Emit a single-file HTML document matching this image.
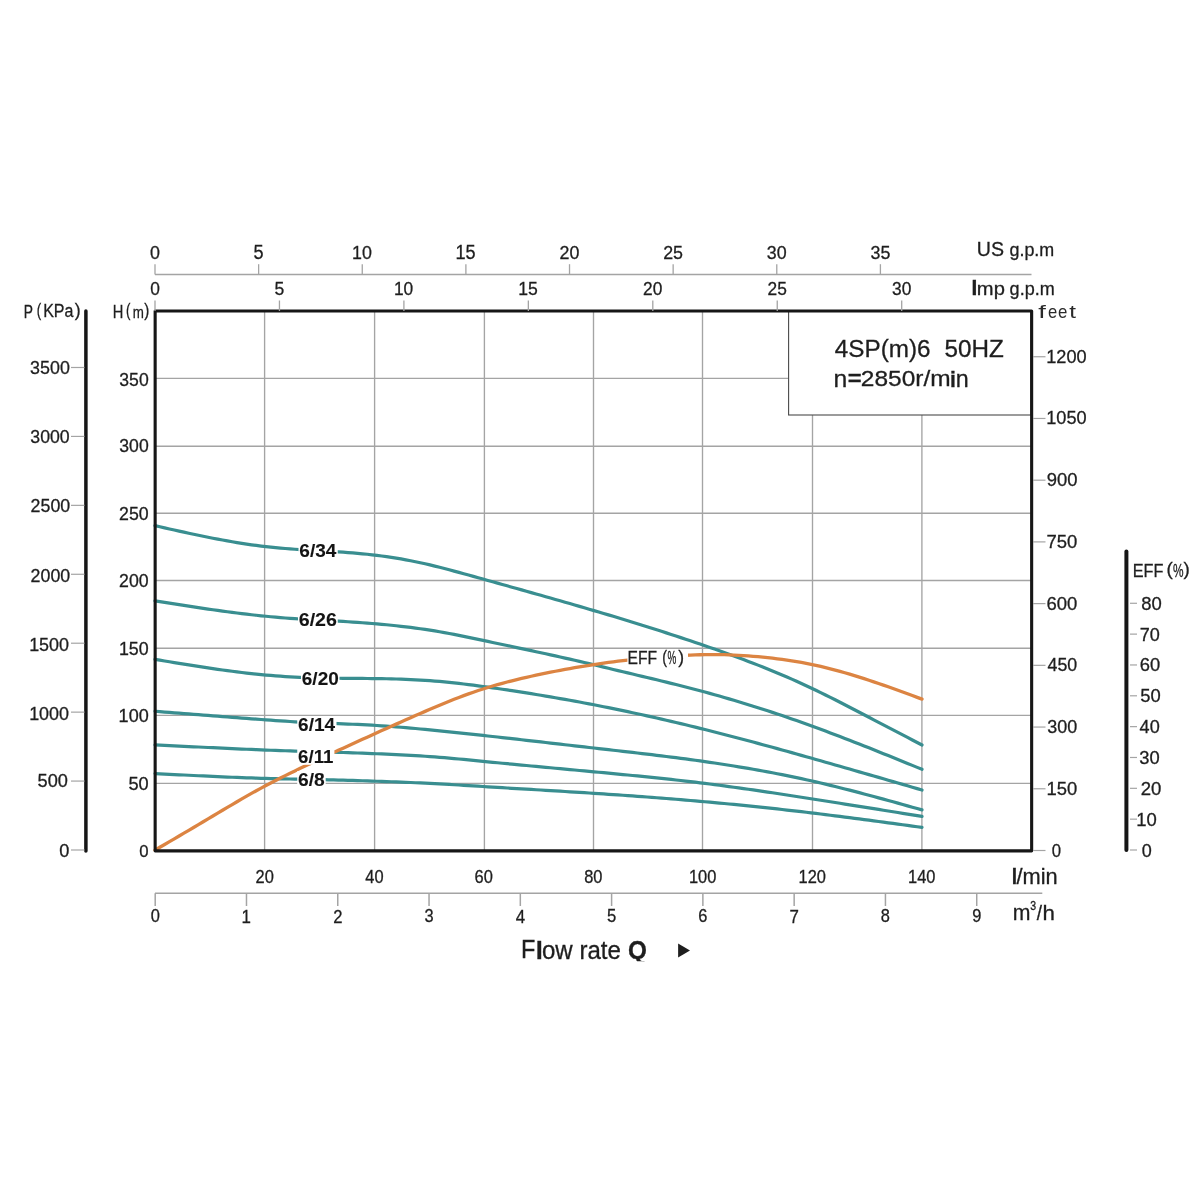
<!DOCTYPE html>
<html><head><meta charset="utf-8"><style>
html,body{margin:0;padding:0;background:#fff;}
svg{display:block;font-family:"Liberation Sans",sans-serif;will-change:transform;}
</style></head><body>
<svg width="1200" height="1200" viewBox="0 0 1200 1200">
<rect x="0" y="0" width="1200" height="1200" fill="#fff"/>
<line x1="264.60" y1="311" x2="264.60" y2="850.5" stroke="#a4a4a4" stroke-width="1.35"/>
<line x1="374.60" y1="311" x2="374.60" y2="850.5" stroke="#a4a4a4" stroke-width="1.35"/>
<line x1="484.40" y1="311" x2="484.40" y2="850.5" stroke="#a4a4a4" stroke-width="1.35"/>
<line x1="593.50" y1="311" x2="593.50" y2="850.5" stroke="#a4a4a4" stroke-width="1.35"/>
<line x1="702.50" y1="311" x2="702.50" y2="850.5" stroke="#a4a4a4" stroke-width="1.35"/>
<line x1="812.50" y1="311" x2="812.50" y2="850.5" stroke="#a4a4a4" stroke-width="1.35"/>
<line x1="921.90" y1="311" x2="921.90" y2="850.5" stroke="#a4a4a4" stroke-width="1.35"/>
<line x1="155" y1="378.40" x2="1031" y2="378.40" stroke="#a4a4a4" stroke-width="1.35"/>
<line x1="155" y1="446.20" x2="1031" y2="446.20" stroke="#a4a4a4" stroke-width="1.35"/>
<line x1="155" y1="513.20" x2="1031" y2="513.20" stroke="#a4a4a4" stroke-width="1.35"/>
<line x1="155" y1="580.50" x2="1031" y2="580.50" stroke="#a4a4a4" stroke-width="1.35"/>
<line x1="155" y1="648.20" x2="1031" y2="648.20" stroke="#a4a4a4" stroke-width="1.35"/>
<line x1="155" y1="715.30" x2="1031" y2="715.30" stroke="#a4a4a4" stroke-width="1.35"/>
<line x1="155" y1="783.30" x2="1031" y2="783.30" stroke="#a4a4a4" stroke-width="1.35"/>
<rect x="788.6" y="311" width="242.4" height="104" fill="#fff" stroke="#4a4a4a" stroke-width="1.1"/>
<path d="M155.00,525.68 L159.82,526.78 L164.65,527.87 L169.47,528.96 L174.30,530.04 L179.12,531.11 L183.94,532.18 L188.77,533.23 L193.59,534.26 L198.42,535.28 L203.24,536.28 L208.06,537.26 L212.89,538.22 L217.71,539.15 L222.53,540.05 L227.36,540.93 L232.18,541.78 L237.01,542.59 L241.83,543.36 L246.65,544.10 L251.48,544.80 L256.30,545.46 L261.13,546.08 L265.95,546.65 L270.77,547.17 L275.60,547.65 L280.42,548.09 L285.25,548.50 L290.07,548.88 L294.89,549.23 L299.72,549.56 L304.54,549.86 L309.36,550.16 L314.19,550.44 L319.01,550.72 L323.84,551.00 L328.66,551.29 L333.48,551.58 L338.31,551.89 L343.13,552.22 L347.96,552.57 L352.78,552.95 L357.60,553.36 L362.43,553.80 L367.25,554.28 L372.08,554.80 L376.90,555.37 L381.72,555.99 L386.55,556.65 L391.37,557.37 L396.19,558.13 L401.02,558.95 L405.84,559.81 L410.67,560.73 L415.49,561.70 L420.31,562.73 L425.14,563.81 L429.96,564.93 L434.79,566.11 L439.61,567.31 L444.43,568.55 L449.26,569.81 L454.08,571.09 L458.91,572.40 L463.73,573.71 L468.55,575.04 L473.38,576.38 L478.20,577.73 L483.03,579.08 L487.85,580.43 L492.67,581.78 L497.50,583.13 L502.32,584.48 L507.14,585.82 L511.97,587.17 L516.79,588.53 L521.62,589.88 L526.44,591.23 L531.26,592.59 L536.09,593.95 L540.91,595.31 L545.74,596.68 L550.56,598.05 L555.38,599.42 L560.21,600.80 L565.03,602.18 L569.86,603.57 L574.68,604.96 L579.50,606.36 L584.33,607.76 L589.15,609.18 L593.97,610.59 L598.80,612.02 L603.62,613.45 L608.45,614.89 L613.27,616.34 L618.09,617.80 L622.92,619.26 L627.74,620.74 L632.57,622.22 L637.39,623.71 L642.21,625.21 L647.04,626.72 L651.86,628.25 L656.69,629.78 L661.51,631.32 L666.33,632.88 L671.16,634.44 L675.98,636.02 L680.81,637.61 L685.63,639.21 L690.45,640.82 L695.28,642.45 L700.10,644.09 L704.92,645.74 L709.75,647.40 L714.57,649.09 L719.40,650.78 L724.22,652.50 L729.04,654.24 L733.87,655.99 L738.69,657.77 L743.52,659.57 L748.34,661.40 L753.16,663.25 L757.99,665.13 L762.81,667.04 L767.64,668.98 L772.46,670.94 L777.28,672.95 L782.11,674.98 L786.93,677.05 L791.75,679.15 L796.58,681.29 L801.40,683.47 L806.23,685.69 L811.05,687.95 L815.87,690.24 L820.70,692.58 L825.52,694.95 L830.35,697.36 L835.17,699.79 L839.99,702.25 L844.82,704.72 L849.64,707.21 L854.47,709.72 L859.29,712.24 L864.11,714.76 L868.94,717.28 L873.76,719.80 L878.58,722.32 L883.41,724.84 L888.23,727.36 L893.06,729.88 L897.88,732.40 L902.70,734.92 L907.53,737.44 L912.35,739.96 L917.18,742.48 L922.00,745.00" fill="none" stroke="#398e90" stroke-width="3.2" stroke-linecap="round" stroke-linejoin="round"/>
<path d="M155.00,600.85 L159.82,601.62 L164.65,602.38 L169.47,603.15 L174.30,603.91 L179.12,604.67 L183.94,605.42 L188.77,606.16 L193.59,606.90 L198.42,607.63 L203.24,608.35 L208.06,609.06 L212.89,609.75 L217.71,610.43 L222.53,611.10 L227.36,611.75 L232.18,612.39 L237.01,613.00 L241.83,613.60 L246.65,614.18 L251.48,614.74 L256.30,615.28 L261.13,615.79 L265.95,616.28 L270.77,616.74 L275.60,617.18 L280.42,617.59 L285.25,617.98 L290.07,618.35 L294.89,618.69 L299.72,619.01 L304.54,619.30 L309.36,619.58 L314.19,619.85 L319.01,620.10 L323.84,620.36 L328.66,620.61 L333.48,620.88 L338.31,621.15 L343.13,621.43 L347.96,621.73 L352.78,622.05 L357.60,622.38 L362.43,622.73 L367.25,623.10 L372.08,623.49 L376.90,623.90 L381.72,624.33 L386.55,624.78 L391.37,625.26 L396.19,625.76 L401.02,626.30 L405.84,626.86 L410.67,627.45 L415.49,628.08 L420.31,628.74 L425.14,629.43 L429.96,630.16 L434.79,630.94 L439.61,631.75 L444.43,632.60 L449.26,633.50 L454.08,634.42 L458.91,635.37 L463.73,636.35 L468.55,637.35 L473.38,638.36 L478.20,639.38 L483.03,640.40 L487.85,641.43 L492.67,642.45 L497.50,643.47 L502.32,644.49 L507.14,645.52 L511.97,646.54 L516.79,647.57 L521.62,648.60 L526.44,649.63 L531.26,650.66 L536.09,651.71 L540.91,652.75 L545.74,653.80 L550.56,654.86 L555.38,655.93 L560.21,657.00 L565.03,658.09 L569.86,659.18 L574.68,660.28 L579.50,661.39 L584.33,662.51 L589.15,663.65 L593.97,664.80 L598.80,665.96 L603.62,667.12 L608.45,668.29 L613.27,669.45 L618.09,670.61 L622.92,671.76 L627.74,672.90 L632.57,674.05 L637.39,675.20 L642.21,676.34 L647.04,677.49 L651.86,678.65 L656.69,679.81 L661.51,680.97 L666.33,682.15 L671.16,683.34 L675.98,684.53 L680.81,685.74 L685.63,686.97 L690.45,688.21 L695.28,689.47 L700.10,690.75 L704.92,692.04 L709.75,693.36 L714.57,694.70 L719.40,696.06 L724.22,697.44 L729.04,698.84 L733.87,700.27 L738.69,701.71 L743.52,703.17 L748.34,704.66 L753.16,706.16 L757.99,707.68 L762.81,709.23 L767.64,710.79 L772.46,712.37 L777.28,713.98 L782.11,715.60 L786.93,717.24 L791.75,718.90 L796.58,720.58 L801.40,722.28 L806.23,724.00 L811.05,725.74 L815.87,727.50 L820.70,729.27 L825.52,731.07 L830.35,732.88 L835.17,734.70 L839.99,736.54 L844.82,738.40 L849.64,740.27 L854.47,742.15 L859.29,744.04 L864.11,745.94 L868.94,747.86 L873.76,749.78 L878.58,751.71 L883.41,753.65 L888.23,755.59 L893.06,757.54 L897.88,759.50 L902.70,761.46 L907.53,763.42 L912.35,765.39 L917.18,767.36 L922.00,769.33" fill="none" stroke="#398e90" stroke-width="3.2" stroke-linecap="round" stroke-linejoin="round"/>
<path d="M155.00,659.37 L159.82,660.18 L164.65,660.98 L169.47,661.77 L174.30,662.57 L179.12,663.36 L183.94,664.14 L188.77,664.91 L193.59,665.68 L198.42,666.43 L203.24,667.17 L208.06,667.90 L212.89,668.61 L217.71,669.30 L222.53,669.98 L227.36,670.64 L232.18,671.27 L237.01,671.89 L241.83,672.48 L246.65,673.05 L251.48,673.59 L256.30,674.10 L261.13,674.58 L265.95,675.04 L270.77,675.46 L275.60,675.85 L280.42,676.21 L285.25,676.53 L290.07,676.83 L294.89,677.09 L299.72,677.31 L304.54,677.51 L309.36,677.68 L314.19,677.82 L319.01,677.94 L323.84,678.03 L328.66,678.11 L333.48,678.18 L338.31,678.23 L343.13,678.28 L347.96,678.32 L352.78,678.36 L357.60,678.39 L362.43,678.43 L367.25,678.48 L372.08,678.53 L376.90,678.60 L381.72,678.68 L386.55,678.77 L391.37,678.88 L396.19,679.02 L401.02,679.17 L405.84,679.35 L410.67,679.55 L415.49,679.78 L420.31,680.04 L425.14,680.34 L429.96,680.67 L434.79,681.03 L439.61,681.43 L444.43,681.88 L449.26,682.36 L454.08,682.87 L458.91,683.42 L463.73,683.99 L468.55,684.59 L473.38,685.21 L478.20,685.85 L483.03,686.51 L487.85,687.17 L492.67,687.85 L497.50,688.54 L502.32,689.24 L507.14,689.95 L511.97,690.68 L516.79,691.41 L521.62,692.16 L526.44,692.92 L531.26,693.69 L536.09,694.47 L540.91,695.26 L545.74,696.07 L550.56,696.89 L555.38,697.72 L560.21,698.56 L565.03,699.41 L569.86,700.28 L574.68,701.16 L579.50,702.05 L584.33,702.96 L589.15,703.87 L593.97,704.80 L598.80,705.74 L603.62,706.70 L608.45,707.67 L613.27,708.65 L618.09,709.64 L622.92,710.64 L627.74,711.66 L632.57,712.69 L637.39,713.73 L642.21,714.78 L647.04,715.85 L651.86,716.93 L656.69,718.01 L661.51,719.12 L666.33,720.23 L671.16,721.35 L675.98,722.48 L680.81,723.63 L685.63,724.79 L690.45,725.96 L695.28,727.14 L700.10,728.33 L704.92,729.53 L709.75,730.74 L714.57,731.96 L719.40,733.19 L724.22,734.44 L729.04,735.69 L733.87,736.95 L738.69,738.22 L743.52,739.49 L748.34,740.78 L753.16,742.07 L757.99,743.37 L762.81,744.68 L767.64,746.00 L772.46,747.32 L777.28,748.64 L782.11,749.98 L786.93,751.31 L791.75,752.66 L796.58,754.01 L801.40,755.36 L806.23,756.71 L811.05,758.07 L815.87,759.44 L820.70,760.80 L825.52,762.17 L830.35,763.55 L835.17,764.92 L839.99,766.30 L844.82,767.68 L849.64,769.06 L854.47,770.45 L859.29,771.84 L864.11,773.22 L868.94,774.62 L873.76,776.01 L878.58,777.40 L883.41,778.80 L888.23,780.19 L893.06,781.59 L897.88,782.99 L902.70,784.39 L907.53,785.79 L912.35,787.19 L917.18,788.59 L922.00,789.99" fill="none" stroke="#398e90" stroke-width="3.2" stroke-linecap="round" stroke-linejoin="round"/>
<path d="M155.00,711.26 L159.82,711.65 L164.65,712.03 L169.47,712.42 L174.30,712.80 L179.12,713.19 L183.94,713.57 L188.77,713.95 L193.59,714.33 L198.42,714.71 L203.24,715.09 L208.06,715.47 L212.89,715.85 L217.71,716.22 L222.53,716.60 L227.36,716.97 L232.18,717.34 L237.01,717.71 L241.83,718.07 L246.65,718.43 L251.48,718.79 L256.30,719.15 L261.13,719.51 L265.95,719.86 L270.77,720.21 L275.60,720.55 L280.42,720.88 L285.25,721.20 L290.07,721.50 L294.89,721.79 L299.72,722.05 L304.54,722.29 L309.36,722.51 L314.19,722.72 L319.01,722.92 L323.84,723.10 L328.66,723.28 L333.48,723.47 L338.31,723.65 L343.13,723.83 L347.96,724.03 L352.78,724.23 L357.60,724.45 L362.43,724.68 L367.25,724.93 L372.08,725.20 L376.90,725.49 L381.72,725.80 L386.55,726.14 L391.37,726.49 L396.19,726.87 L401.02,727.26 L405.84,727.67 L410.67,728.09 L415.49,728.52 L420.31,728.97 L425.14,729.43 L429.96,729.90 L434.79,730.38 L439.61,730.86 L444.43,731.35 L449.26,731.85 L454.08,732.35 L458.91,732.85 L463.73,733.36 L468.55,733.87 L473.38,734.39 L478.20,734.91 L483.03,735.44 L487.85,735.97 L492.67,736.50 L497.50,737.03 L502.32,737.57 L507.14,738.11 L511.97,738.66 L516.79,739.20 L521.62,739.75 L526.44,740.30 L531.26,740.85 L536.09,741.40 L540.91,741.95 L545.74,742.50 L550.56,743.06 L555.38,743.61 L560.21,744.17 L565.03,744.72 L569.86,745.27 L574.68,745.83 L579.50,746.38 L584.33,746.93 L589.15,747.48 L593.97,748.03 L598.80,748.58 L603.62,749.13 L608.45,749.68 L613.27,750.23 L618.09,750.77 L622.92,751.33 L627.74,751.88 L632.57,752.44 L637.39,753.00 L642.21,753.56 L647.04,754.13 L651.86,754.71 L656.69,755.29 L661.51,755.88 L666.33,756.48 L671.16,757.08 L675.98,757.70 L680.81,758.32 L685.63,758.96 L690.45,759.61 L695.28,760.26 L700.10,760.93 L704.92,761.62 L709.75,762.31 L714.57,763.02 L719.40,763.75 L724.22,764.49 L729.04,765.24 L733.87,766.01 L738.69,766.80 L743.52,767.60 L748.34,768.42 L753.16,769.26 L757.99,770.11 L762.81,770.98 L767.64,771.88 L772.46,772.79 L777.28,773.71 L782.11,774.66 L786.93,775.63 L791.75,776.62 L796.58,777.63 L801.40,778.67 L806.23,779.72 L811.05,780.80 L815.87,781.90 L820.70,783.02 L825.52,784.16 L830.35,785.33 L835.17,786.51 L839.99,787.71 L844.82,788.93 L849.64,790.16 L854.47,791.41 L859.29,792.67 L864.11,793.95 L868.94,795.23 L873.76,796.53 L878.58,797.84 L883.41,799.16 L888.23,800.49 L893.06,801.82 L897.88,803.16 L902.70,804.50 L907.53,805.85 L912.35,807.20 L917.18,808.56 L922.00,809.91" fill="none" stroke="#398e90" stroke-width="3.2" stroke-linecap="round" stroke-linejoin="round"/>
<path d="M155.00,744.82 L159.82,745.07 L164.65,745.31 L169.47,745.56 L174.30,745.81 L179.12,746.05 L183.94,746.29 L188.77,746.54 L193.59,746.78 L198.42,747.02 L203.24,747.25 L208.06,747.49 L212.89,747.72 L217.71,747.95 L222.53,748.18 L227.36,748.40 L232.18,748.62 L237.01,748.84 L241.83,749.05 L246.65,749.26 L251.48,749.46 L256.30,749.66 L261.13,749.86 L265.95,750.05 L270.77,750.23 L275.60,750.41 L280.42,750.59 L285.25,750.76 L290.07,750.92 L294.89,751.08 L299.72,751.23 L304.54,751.38 L309.36,751.52 L314.19,751.66 L319.01,751.80 L323.84,751.94 L328.66,752.08 L333.48,752.22 L338.31,752.37 L343.13,752.52 L347.96,752.68 L352.78,752.85 L357.60,753.02 L362.43,753.19 L367.25,753.37 L372.08,753.56 L376.90,753.75 L381.72,753.95 L386.55,754.16 L391.37,754.38 L396.19,754.61 L401.02,754.85 L405.84,755.10 L410.67,755.36 L415.49,755.65 L420.31,755.94 L425.14,756.26 L429.96,756.59 L434.79,756.94 L439.61,757.32 L444.43,757.71 L449.26,758.13 L454.08,758.56 L458.91,759.00 L463.73,759.46 L468.55,759.93 L473.38,760.40 L478.20,760.87 L483.03,761.35 L487.85,761.82 L492.67,762.29 L497.50,762.76 L502.32,763.23 L507.14,763.69 L511.97,764.15 L516.79,764.61 L521.62,765.07 L526.44,765.52 L531.26,765.98 L536.09,766.43 L540.91,766.88 L545.74,767.33 L550.56,767.78 L555.38,768.23 L560.21,768.68 L565.03,769.12 L569.86,769.57 L574.68,770.02 L579.50,770.47 L584.33,770.91 L589.15,771.36 L593.97,771.81 L598.80,772.26 L603.62,772.71 L608.45,773.16 L613.27,773.62 L618.09,774.08 L622.92,774.54 L627.74,775.00 L632.57,775.47 L637.39,775.95 L642.21,776.43 L647.04,776.91 L651.86,777.40 L656.69,777.90 L661.51,778.41 L666.33,778.92 L671.16,779.45 L675.98,779.98 L680.81,780.52 L685.63,781.07 L690.45,781.63 L695.28,782.21 L700.10,782.79 L704.92,783.39 L709.75,784.00 L714.57,784.62 L719.40,785.25 L724.22,785.89 L729.04,786.54 L733.87,787.21 L738.69,787.88 L743.52,788.56 L748.34,789.24 L753.16,789.94 L757.99,790.64 L762.81,791.36 L767.64,792.07 L772.46,792.79 L777.28,793.52 L782.11,794.26 L786.93,794.99 L791.75,795.74 L796.58,796.48 L801.40,797.23 L806.23,797.98 L811.05,798.74 L815.87,799.49 L820.70,800.25 L825.52,801.01 L830.35,801.77 L835.17,802.53 L839.99,803.29 L844.82,804.06 L849.64,804.82 L854.47,805.59 L859.29,806.36 L864.11,807.13 L868.94,807.90 L873.76,808.67 L878.58,809.44 L883.41,810.21 L888.23,810.98 L893.06,811.75 L897.88,812.53 L902.70,813.30 L907.53,814.07 L912.35,814.85 L917.18,815.62 L922.00,816.39" fill="none" stroke="#398e90" stroke-width="3.2" stroke-linecap="round" stroke-linejoin="round"/>
<path d="M155.00,773.54 L159.82,773.79 L164.65,774.04 L169.47,774.29 L174.30,774.53 L179.12,774.78 L183.94,775.02 L188.77,775.26 L193.59,775.50 L198.42,775.73 L203.24,775.97 L208.06,776.19 L212.89,776.41 L217.71,776.63 L222.53,776.84 L227.36,777.05 L232.18,777.24 L237.01,777.44 L241.83,777.62 L246.65,777.80 L251.48,777.97 L256.30,778.13 L261.13,778.28 L265.95,778.42 L270.77,778.55 L275.60,778.68 L280.42,778.79 L285.25,778.90 L290.07,779.01 L294.89,779.11 L299.72,779.20 L304.54,779.30 L309.36,779.39 L314.19,779.49 L319.01,779.58 L323.84,779.69 L328.66,779.80 L333.48,779.92 L338.31,780.04 L343.13,780.17 L347.96,780.31 L352.78,780.45 L357.60,780.60 L362.43,780.76 L367.25,780.91 L372.08,781.08 L376.90,781.24 L381.72,781.41 L386.55,781.58 L391.37,781.76 L396.19,781.94 L401.02,782.13 L405.84,782.32 L410.67,782.52 L415.49,782.73 L420.31,782.95 L425.14,783.17 L429.96,783.41 L434.79,783.65 L439.61,783.91 L444.43,784.17 L449.26,784.44 L454.08,784.73 L458.91,785.01 L463.73,785.31 L468.55,785.61 L473.38,785.91 L478.20,786.21 L483.03,786.51 L487.85,786.81 L492.67,787.11 L497.50,787.40 L502.32,787.70 L507.14,787.99 L511.97,788.28 L516.79,788.57 L521.62,788.86 L526.44,789.15 L531.26,789.44 L536.09,789.73 L540.91,790.02 L545.74,790.32 L550.56,790.61 L555.38,790.90 L560.21,791.20 L565.03,791.49 L569.86,791.79 L574.68,792.09 L579.50,792.40 L584.33,792.70 L589.15,793.01 L593.97,793.32 L598.80,793.64 L603.62,793.96 L608.45,794.28 L613.27,794.60 L618.09,794.93 L622.92,795.27 L627.74,795.61 L632.57,795.95 L637.39,796.30 L642.21,796.65 L647.04,797.01 L651.86,797.37 L656.69,797.74 L661.51,798.11 L666.33,798.49 L671.16,798.87 L675.98,799.26 L680.81,799.66 L685.63,800.06 L690.45,800.47 L695.28,800.88 L700.10,801.30 L704.92,801.73 L709.75,802.16 L714.57,802.61 L719.40,803.05 L724.22,803.51 L729.04,803.97 L733.87,804.44 L738.69,804.91 L743.52,805.40 L748.34,805.89 L753.16,806.38 L757.99,806.88 L762.81,807.39 L767.64,807.91 L772.46,808.43 L777.28,808.96 L782.11,809.50 L786.93,810.04 L791.75,810.59 L796.58,811.14 L801.40,811.71 L806.23,812.28 L811.05,812.85 L815.87,813.43 L820.70,814.02 L825.52,814.62 L830.35,815.22 L835.17,815.83 L839.99,816.44 L844.82,817.06 L849.64,817.68 L854.47,818.31 L859.29,818.94 L864.11,819.57 L868.94,820.21 L873.76,820.85 L878.58,821.49 L883.41,822.14 L888.23,822.79 L893.06,823.44 L897.88,824.09 L902.70,824.75 L907.53,825.40 L912.35,826.06 L917.18,826.72 L922.00,827.37" fill="none" stroke="#398e90" stroke-width="3.2" stroke-linecap="round" stroke-linejoin="round"/>
<path d="M155.00,850.10 L159.82,847.29 L164.65,844.47 L169.47,841.66 L174.30,838.84 L179.12,836.01 L183.94,833.18 L188.77,830.34 L193.59,827.50 L198.42,824.65 L203.24,821.78 L208.06,818.91 L212.89,816.03 L217.71,813.15 L222.53,810.27 L227.36,807.41 L232.18,804.56 L237.01,801.73 L241.83,798.93 L246.65,796.16 L251.48,793.42 L256.30,790.73 L261.13,788.09 L265.95,785.50 L270.77,782.97 L275.60,780.48 L280.42,778.04 L285.25,775.63 L290.07,773.26 L294.89,770.92 L299.72,768.60 L304.54,766.29 L309.36,764.00 L314.19,761.71 L319.01,759.42 L323.84,757.15 L328.66,754.88 L333.48,752.62 L338.31,750.37 L343.13,748.14 L347.96,745.92 L352.78,743.72 L357.60,741.52 L362.43,739.33 L367.25,737.14 L372.08,734.97 L376.90,732.79 L381.72,730.62 L386.55,728.45 L391.37,726.29 L396.19,724.13 L401.02,721.98 L405.84,719.84 L410.67,717.71 L415.49,715.58 L420.31,713.47 L425.14,711.37 L429.96,709.29 L434.79,707.23 L439.61,705.19 L444.43,703.20 L449.26,701.24 L454.08,699.32 L458.91,697.45 L463.73,695.64 L468.55,693.89 L473.38,692.19 L478.20,690.56 L483.03,688.98 L487.85,687.47 L492.67,686.03 L497.50,684.64 L502.32,683.30 L507.14,682.02 L511.97,680.78 L516.79,679.59 L521.62,678.44 L526.44,677.33 L531.26,676.25 L536.09,675.20 L540.91,674.18 L545.74,673.18 L550.56,672.20 L555.38,671.25 L560.21,670.33 L565.03,669.43 L569.86,668.55 L574.68,667.70 L579.50,666.88 L584.33,666.08 L589.15,665.30 L593.97,664.56 L598.80,663.84 L603.62,663.14 L608.45,662.47 L613.27,661.83 L618.09,661.21 L622.92,660.61 L627.74,660.04 L632.57,659.49 L637.39,658.96 L642.21,658.46 L647.04,657.99 L651.86,657.54 L656.69,657.13 L661.51,656.73 L666.33,656.37 L671.16,656.04 L675.98,655.74 L680.81,655.47 L685.63,655.24 L690.45,655.04 L695.28,654.87 L700.10,654.74 L704.92,654.65 L709.75,654.60 L714.57,654.60 L719.40,654.63 L724.22,654.72 L729.04,654.85 L733.87,655.04 L738.69,655.28 L743.52,655.57 L748.34,655.90 L753.16,656.28 L757.99,656.71 L762.81,657.16 L767.64,657.66 L772.46,658.20 L777.28,658.79 L782.11,659.42 L786.93,660.10 L791.75,660.84 L796.58,661.62 L801.40,662.47 L806.23,663.37 L811.05,664.33 L815.87,665.35 L820.70,666.44 L825.52,667.59 L830.35,668.79 L835.17,670.05 L839.99,671.37 L844.82,672.73 L849.64,674.14 L854.47,675.59 L859.29,677.09 L864.11,678.62 L868.94,680.20 L873.76,681.81 L878.58,683.45 L883.41,685.12 L888.23,686.81 L893.06,688.53 L897.88,690.27 L902.70,692.02 L907.53,693.78 L912.35,695.55 L917.18,697.33 L922.00,699.12" fill="none" stroke="#dc8442" stroke-width="3.3" stroke-linecap="round" stroke-linejoin="round"/>
<rect x="298.50" y="541.50" width="39.25" height="17.00" fill="#fff"/>
<rect x="298.00" y="611.50" width="39.75" height="16.25" fill="#fff"/>
<rect x="301.00" y="669.75" width="38.50" height="16.75" fill="#fff"/>
<rect x="297.25" y="716.00" width="39.25" height="17.20" fill="#fff"/>
<rect x="297.25" y="747.70" width="37.15" height="17.10" fill="#fff"/>
<rect x="297.25" y="771.00" width="28.45" height="17.20" fill="#fff"/>
<text x="299.30" y="556.62" font-size="18.80" font-weight="bold" textLength="37.05" lengthAdjust="spacingAndGlyphs" fill="#141414" stroke="#141414" stroke-width="0.1">6/34</text>
<text x="298.78" y="625.89" font-size="17.79" font-weight="bold" textLength="38.18" lengthAdjust="spacingAndGlyphs" fill="#141414" stroke="#141414" stroke-width="0.1">6/26</text>
<text x="301.80" y="684.63" font-size="18.47" font-weight="bold" textLength="36.97" lengthAdjust="spacingAndGlyphs" fill="#141414" stroke="#141414" stroke-width="0.1">6/20</text>
<text x="298.05" y="731.32" font-size="19.07" font-weight="bold" textLength="37.05" lengthAdjust="spacingAndGlyphs" fill="#141414" stroke="#141414" stroke-width="0.1">6/14</text>
<text x="298.09" y="762.92" font-size="18.94" font-weight="bold" textLength="35.32" lengthAdjust="spacingAndGlyphs" fill="#141414" stroke="#141414" stroke-width="0.1">6/11</text>
<text x="298.05" y="786.32" font-size="19.07" font-weight="bold" textLength="26.75" lengthAdjust="spacingAndGlyphs" fill="#141414" stroke="#141414" stroke-width="0.1">6/8</text>
<rect x="627.4" y="649" width="60.6" height="18" fill="#fff"/>
<text x="627.52" y="664.40" font-size="18.46" textLength="29.51" lengthAdjust="spacingAndGlyphs" fill="#1e1e1e" stroke="#1e1e1e" stroke-width="0.3">EFF</text>
<text x="662.31" y="662.89" font-size="17.93" textLength="4.77" lengthAdjust="spacingAndGlyphs" fill="#1e1e1e" stroke="#1e1e1e" stroke-width="0.3">(</text>
<text x="667.45" y="664.29" font-size="18.15" textLength="8.81" lengthAdjust="spacingAndGlyphs" fill="#1e1e1e" stroke="#1e1e1e" stroke-width="0.3">%</text>
<text x="678.30" y="662.89" font-size="17.93" textLength="5.78" lengthAdjust="spacingAndGlyphs" fill="#1e1e1e" stroke="#1e1e1e" stroke-width="0.3">)</text>
<rect x="155.15" y="311" width="876.5" height="539.85" fill="none" stroke="#161616" stroke-width="3.1" stroke-linejoin="round"/>
<line x1="155" y1="274.4" x2="1031.5" y2="274.4" stroke="#a4a4a4" stroke-width="1.5"/>
<line x1="155.00" y1="264.2" x2="155.00" y2="274.4" stroke="#a4a4a4" stroke-width="1.3"/>
<text x="150.03" y="259.21" font-size="19.21" textLength="9.94" lengthAdjust="spacingAndGlyphs" fill="#1e1e1e" stroke="#1e1e1e" stroke-width="0.3">0</text>
<line x1="258.63" y1="264.2" x2="258.63" y2="274.4" stroke="#a4a4a4" stroke-width="1.3"/>
<text x="253.61" y="259.21" font-size="19.49" textLength="10.08" lengthAdjust="spacingAndGlyphs" fill="#1e1e1e" stroke="#1e1e1e" stroke-width="0.3">5</text>
<line x1="362.26" y1="264.2" x2="362.26" y2="274.4" stroke="#a4a4a4" stroke-width="1.3"/>
<text x="351.99" y="259.21" font-size="19.21" textLength="19.87" lengthAdjust="spacingAndGlyphs" fill="#1e1e1e" stroke="#1e1e1e" stroke-width="0.3">10</text>
<line x1="465.89" y1="264.2" x2="465.89" y2="274.4" stroke="#a4a4a4" stroke-width="1.3"/>
<text x="455.50" y="259.21" font-size="19.49" textLength="20.16" lengthAdjust="spacingAndGlyphs" fill="#1e1e1e" stroke="#1e1e1e" stroke-width="0.3">15</text>
<line x1="569.52" y1="264.2" x2="569.52" y2="274.4" stroke="#a4a4a4" stroke-width="1.3"/>
<text x="559.48" y="259.21" font-size="19.21" textLength="19.87" lengthAdjust="spacingAndGlyphs" fill="#1e1e1e" stroke="#1e1e1e" stroke-width="0.3">20</text>
<line x1="673.15" y1="264.2" x2="673.15" y2="274.4" stroke="#a4a4a4" stroke-width="1.3"/>
<text x="663.14" y="259.21" font-size="19.21" textLength="19.87" lengthAdjust="spacingAndGlyphs" fill="#1e1e1e" stroke="#1e1e1e" stroke-width="0.3">25</text>
<line x1="776.78" y1="264.2" x2="776.78" y2="274.4" stroke="#a4a4a4" stroke-width="1.3"/>
<text x="766.85" y="259.21" font-size="19.21" textLength="19.87" lengthAdjust="spacingAndGlyphs" fill="#1e1e1e" stroke="#1e1e1e" stroke-width="0.3">30</text>
<line x1="880.41" y1="264.2" x2="880.41" y2="274.4" stroke="#a4a4a4" stroke-width="1.3"/>
<text x="870.51" y="259.21" font-size="19.21" textLength="19.87" lengthAdjust="spacingAndGlyphs" fill="#1e1e1e" stroke="#1e1e1e" stroke-width="0.3">35</text>
<line x1="155.00" y1="300.5" x2="155.00" y2="311" stroke="#a4a4a4" stroke-width="1.3"/>
<text x="150.18" y="295.02" font-size="18.64" textLength="9.64" lengthAdjust="spacingAndGlyphs" fill="#1e1e1e" stroke="#1e1e1e" stroke-width="0.3">0</text>
<line x1="279.45" y1="300.5" x2="279.45" y2="311" stroke="#a4a4a4" stroke-width="1.3"/>
<text x="274.57" y="295.02" font-size="18.92" textLength="9.78" lengthAdjust="spacingAndGlyphs" fill="#1e1e1e" stroke="#1e1e1e" stroke-width="0.3">5</text>
<line x1="403.90" y1="300.5" x2="403.90" y2="311" stroke="#a4a4a4" stroke-width="1.3"/>
<text x="393.94" y="295.02" font-size="18.64" textLength="19.29" lengthAdjust="spacingAndGlyphs" fill="#1e1e1e" stroke="#1e1e1e" stroke-width="0.3">10</text>
<line x1="528.35" y1="300.5" x2="528.35" y2="311" stroke="#a4a4a4" stroke-width="1.3"/>
<text x="518.26" y="295.02" font-size="18.92" textLength="19.57" lengthAdjust="spacingAndGlyphs" fill="#1e1e1e" stroke="#1e1e1e" stroke-width="0.3">15</text>
<line x1="652.80" y1="300.5" x2="652.80" y2="311" stroke="#a4a4a4" stroke-width="1.3"/>
<text x="643.06" y="295.02" font-size="18.64" textLength="19.29" lengthAdjust="spacingAndGlyphs" fill="#1e1e1e" stroke="#1e1e1e" stroke-width="0.3">20</text>
<line x1="777.25" y1="300.5" x2="777.25" y2="311" stroke="#a4a4a4" stroke-width="1.3"/>
<text x="767.54" y="295.02" font-size="18.64" textLength="19.29" lengthAdjust="spacingAndGlyphs" fill="#1e1e1e" stroke="#1e1e1e" stroke-width="0.3">25</text>
<line x1="901.70" y1="300.5" x2="901.70" y2="311" stroke="#a4a4a4" stroke-width="1.3"/>
<text x="892.07" y="295.02" font-size="18.64" textLength="19.29" lengthAdjust="spacingAndGlyphs" fill="#1e1e1e" stroke="#1e1e1e" stroke-width="0.3">30</text>
<text x="976.79" y="256.40" font-size="20.06" textLength="27.21" lengthAdjust="spacingAndGlyphs" fill="#1e1e1e" stroke="#1e1e1e" stroke-width="0.3">US</text>
<text x="1009.45" y="256.33" font-size="17.70" textLength="44.83" lengthAdjust="spacingAndGlyphs" fill="#1e1e1e" stroke="#1e1e1e" stroke-width="0.3">g.p.m</text>
<text x="971.41" y="295.20" font-size="21.37" font-weight="bold" textLength="5.79" lengthAdjust="spacingAndGlyphs" fill="#1e1e1e" stroke="#1e1e1e" stroke-width="0.3">I</text>
<text x="976.86" y="295.10" font-size="17.84" textLength="27.98" lengthAdjust="spacingAndGlyphs" fill="#1e1e1e" stroke="#1e1e1e" stroke-width="0.3">mp</text>
<text x="1009.64" y="295.10" font-size="17.84" textLength="45.04" lengthAdjust="spacingAndGlyphs" fill="#1e1e1e" stroke="#1e1e1e" stroke-width="0.3">g.p.m</text>
<text x="1038.36" y="317.90" font-size="18.93" textLength="7.60" lengthAdjust="spacingAndGlyphs" fill="#2a2a2a" stroke="#2a2a2a" stroke-width="0">f</text>
<text x="1047.99" y="317.93" font-size="17.52" textLength="9.24" lengthAdjust="spacingAndGlyphs" fill="#2a2a2a" stroke="#2a2a2a" stroke-width="0">e</text>
<text x="1057.88" y="317.93" font-size="17.52" textLength="9.36" lengthAdjust="spacingAndGlyphs" fill="#2a2a2a" stroke="#2a2a2a" stroke-width="0">e</text>
<text x="1069.23" y="317.96" font-size="17.73" textLength="6.75" lengthAdjust="spacingAndGlyphs" fill="#2a2a2a" stroke="#2a2a2a" stroke-width="0">t</text>
<line x1="85.9" y1="311" x2="85.9" y2="851" stroke="#161616" stroke-width="3.5" stroke-linecap="round"/>
<line x1="71" y1="850.00" x2="84.5" y2="850.00" stroke="#a4a4a4" stroke-width="1.2"/>
<text x="59.29" y="856.53" font-size="17.66" textLength="10.12" lengthAdjust="spacingAndGlyphs" fill="#1e1e1e" stroke="#1e1e1e" stroke-width="0.3">0</text>
<line x1="71" y1="781.07" x2="84.5" y2="781.07" stroke="#a4a4a4" stroke-width="1.2"/>
<text x="37.57" y="787.33" font-size="17.66" textLength="30.34" lengthAdjust="spacingAndGlyphs" fill="#1e1e1e" stroke="#1e1e1e" stroke-width="0.3">500</text>
<line x1="71" y1="712.14" x2="84.5" y2="712.14" stroke="#a4a4a4" stroke-width="1.2"/>
<text x="29.14" y="719.82" font-size="18.79" textLength="39.86" lengthAdjust="spacingAndGlyphs" fill="#1e1e1e" stroke="#1e1e1e" stroke-width="0.3">1000</text>
<line x1="71" y1="643.21" x2="84.5" y2="643.21" stroke="#a4a4a4" stroke-width="1.2"/>
<text x="29.14" y="650.62" font-size="18.79" textLength="39.86" lengthAdjust="spacingAndGlyphs" fill="#1e1e1e" stroke="#1e1e1e" stroke-width="0.3">1500</text>
<line x1="71" y1="574.28" x2="84.5" y2="574.28" stroke="#a4a4a4" stroke-width="1.2"/>
<text x="30.60" y="581.52" font-size="18.93" textLength="39.59" lengthAdjust="spacingAndGlyphs" fill="#1e1e1e" stroke="#1e1e1e" stroke-width="0.3">2000</text>
<line x1="71" y1="505.35" x2="84.5" y2="505.35" stroke="#a4a4a4" stroke-width="1.2"/>
<text x="30.60" y="512.32" font-size="18.08" textLength="39.59" lengthAdjust="spacingAndGlyphs" fill="#1e1e1e" stroke="#1e1e1e" stroke-width="0.3">2500</text>
<line x1="71" y1="436.42" x2="84.5" y2="436.42" stroke="#a4a4a4" stroke-width="1.2"/>
<text x="30.33" y="442.82" font-size="18.36" textLength="39.37" lengthAdjust="spacingAndGlyphs" fill="#1e1e1e" stroke="#1e1e1e" stroke-width="0.3">3000</text>
<line x1="71" y1="367.49" x2="84.5" y2="367.49" stroke="#a4a4a4" stroke-width="1.2"/>
<text x="30.12" y="374.02" font-size="18.93" textLength="39.78" lengthAdjust="spacingAndGlyphs" fill="#1e1e1e" stroke="#1e1e1e" stroke-width="0.3">3500</text>
<text x="23.77" y="317.60" font-size="18.17" textLength="9.21" lengthAdjust="spacingAndGlyphs" fill="#1e1e1e" stroke="#1e1e1e" stroke-width="0.3">P</text>
<text x="36.68" y="316.14" font-size="18.14" textLength="4.40" lengthAdjust="spacingAndGlyphs" fill="#1e1e1e" stroke="#1e1e1e" stroke-width="0.3">(</text>
<text x="43.19" y="317.43" font-size="17.91" textLength="30.21" lengthAdjust="spacingAndGlyphs" fill="#1e1e1e" stroke="#1e1e1e" stroke-width="0.3">KPa</text>
<text x="74.70" y="316.14" font-size="18.14" textLength="5.90" lengthAdjust="spacingAndGlyphs" fill="#1e1e1e" stroke="#1e1e1e" stroke-width="0.3">)</text>
<text x="112.70" y="317.60" font-size="18.17" textLength="10.60" lengthAdjust="spacingAndGlyphs" fill="#1e1e1e" stroke="#1e1e1e" stroke-width="0.3">H</text>
<text x="125.93" y="316.14" font-size="18.14" textLength="4.40" lengthAdjust="spacingAndGlyphs" fill="#1e1e1e" stroke="#1e1e1e" stroke-width="0.3">(</text>
<text x="132.86" y="317.60" font-size="17.38" textLength="11.12" lengthAdjust="spacingAndGlyphs" fill="#1e1e1e" stroke="#1e1e1e" stroke-width="0.3">m</text>
<text x="144.16" y="316.14" font-size="18.14" textLength="5.09" lengthAdjust="spacingAndGlyphs" fill="#1e1e1e" stroke="#1e1e1e" stroke-width="0.3">)</text>
<text x="119.33" y="385.62" font-size="18.79" textLength="29.36" lengthAdjust="spacingAndGlyphs" fill="#1e1e1e" stroke="#1e1e1e" stroke-width="0.3">350</text>
<text x="119.33" y="452.32" font-size="18.08" textLength="29.36" lengthAdjust="spacingAndGlyphs" fill="#1e1e1e" stroke="#1e1e1e" stroke-width="0.3">300</text>
<text x="119.11" y="519.83" font-size="17.66" textLength="29.58" lengthAdjust="spacingAndGlyphs" fill="#1e1e1e" stroke="#1e1e1e" stroke-width="0.3">250</text>
<text x="119.11" y="587.32" font-size="18.79" textLength="29.58" lengthAdjust="spacingAndGlyphs" fill="#1e1e1e" stroke="#1e1e1e" stroke-width="0.3">200</text>
<text x="118.94" y="655.12" font-size="18.08" textLength="29.76" lengthAdjust="spacingAndGlyphs" fill="#1e1e1e" stroke="#1e1e1e" stroke-width="0.3">150</text>
<text x="118.63" y="722.33" font-size="17.66" textLength="30.08" lengthAdjust="spacingAndGlyphs" fill="#1e1e1e" stroke="#1e1e1e" stroke-width="0.3">100</text>
<text x="128.47" y="789.83" font-size="17.66" textLength="20.24" lengthAdjust="spacingAndGlyphs" fill="#1e1e1e" stroke="#1e1e1e" stroke-width="0.3">50</text>
<text x="139.35" y="857.34" font-size="16.24" textLength="9.31" lengthAdjust="spacingAndGlyphs" fill="#1e1e1e" stroke="#1e1e1e" stroke-width="0.3">0</text>
<line x1="1033" y1="850.50" x2="1045.5" y2="850.50" stroke="#a4a4a4" stroke-width="1.2"/>
<text x="1051.75" y="856.51" font-size="19.07" textLength="9.31" lengthAdjust="spacingAndGlyphs" fill="#1e1e1e" stroke="#1e1e1e" stroke-width="0.3">0</text>
<line x1="1033" y1="788.78" x2="1045.5" y2="788.78" stroke="#a4a4a4" stroke-width="1.2"/>
<text x="1046.60" y="794.79" font-size="19.07" textLength="30.72" lengthAdjust="spacingAndGlyphs" fill="#1e1e1e" stroke="#1e1e1e" stroke-width="0.3">150</text>
<line x1="1033" y1="727.06" x2="1045.5" y2="727.06" stroke="#a4a4a4" stroke-width="1.2"/>
<text x="1047.32" y="733.07" font-size="19.07" textLength="29.99" lengthAdjust="spacingAndGlyphs" fill="#1e1e1e" stroke="#1e1e1e" stroke-width="0.3">300</text>
<line x1="1033" y1="665.34" x2="1045.5" y2="665.34" stroke="#a4a4a4" stroke-width="1.2"/>
<text x="1047.59" y="671.35" font-size="19.07" textLength="29.70" lengthAdjust="spacingAndGlyphs" fill="#1e1e1e" stroke="#1e1e1e" stroke-width="0.3">450</text>
<line x1="1033" y1="603.62" x2="1045.5" y2="603.62" stroke="#a4a4a4" stroke-width="1.2"/>
<text x="1046.56" y="609.63" font-size="19.07" textLength="30.86" lengthAdjust="spacingAndGlyphs" fill="#1e1e1e" stroke="#1e1e1e" stroke-width="0.3">600</text>
<line x1="1033" y1="541.90" x2="1045.5" y2="541.90" stroke="#a4a4a4" stroke-width="1.2"/>
<text x="1046.55" y="547.91" font-size="19.07" textLength="30.87" lengthAdjust="spacingAndGlyphs" fill="#1e1e1e" stroke="#1e1e1e" stroke-width="0.3">750</text>
<line x1="1033" y1="480.18" x2="1045.5" y2="480.18" stroke="#a4a4a4" stroke-width="1.2"/>
<text x="1046.64" y="486.19" font-size="19.07" textLength="30.79" lengthAdjust="spacingAndGlyphs" fill="#1e1e1e" stroke="#1e1e1e" stroke-width="0.3">900</text>
<line x1="1033" y1="418.46" x2="1045.5" y2="418.46" stroke="#a4a4a4" stroke-width="1.2"/>
<text x="1046.22" y="424.47" font-size="19.07" textLength="40.39" lengthAdjust="spacingAndGlyphs" fill="#1e1e1e" stroke="#1e1e1e" stroke-width="0.3">1050</text>
<line x1="1033" y1="356.74" x2="1045.5" y2="356.74" stroke="#a4a4a4" stroke-width="1.2"/>
<text x="1046.22" y="362.75" font-size="19.07" textLength="40.39" lengthAdjust="spacingAndGlyphs" fill="#1e1e1e" stroke="#1e1e1e" stroke-width="0.3">1200</text>
<line x1="1126.4" y1="551.5" x2="1126.4" y2="850" stroke="#161616" stroke-width="4" stroke-linecap="round"/>
<line x1="1130" y1="850.00" x2="1137" y2="850.00" stroke="#a4a4a4" stroke-width="1.2"/>
<text x="1141.70" y="856.52" font-size="18.79" textLength="10.01" lengthAdjust="spacingAndGlyphs" fill="#1e1e1e" stroke="#1e1e1e" stroke-width="0.3">0</text>
<line x1="1130" y1="819.16" x2="1137" y2="819.16" stroke="#a4a4a4" stroke-width="1.2"/>
<text x="1136.19" y="825.68" font-size="18.79" textLength="20.53" lengthAdjust="spacingAndGlyphs" fill="#1e1e1e" stroke="#1e1e1e" stroke-width="0.3">10</text>
<line x1="1130" y1="788.32" x2="1137" y2="788.32" stroke="#a4a4a4" stroke-width="1.2"/>
<text x="1140.67" y="794.84" font-size="18.79" textLength="20.66" lengthAdjust="spacingAndGlyphs" fill="#1e1e1e" stroke="#1e1e1e" stroke-width="0.3">20</text>
<line x1="1130" y1="757.48" x2="1137" y2="757.48" stroke="#a4a4a4" stroke-width="1.2"/>
<text x="1139.30" y="764.00" font-size="18.79" textLength="20.42" lengthAdjust="spacingAndGlyphs" fill="#1e1e1e" stroke="#1e1e1e" stroke-width="0.3">30</text>
<line x1="1130" y1="726.64" x2="1137" y2="726.64" stroke="#a4a4a4" stroke-width="1.2"/>
<text x="1139.58" y="733.16" font-size="18.79" textLength="20.12" lengthAdjust="spacingAndGlyphs" fill="#1e1e1e" stroke="#1e1e1e" stroke-width="0.3">40</text>
<line x1="1130" y1="695.80" x2="1137" y2="695.80" stroke="#a4a4a4" stroke-width="1.2"/>
<text x="1140.26" y="702.32" font-size="18.79" textLength="20.45" lengthAdjust="spacingAndGlyphs" fill="#1e1e1e" stroke="#1e1e1e" stroke-width="0.3">50</text>
<line x1="1130" y1="664.96" x2="1137" y2="664.96" stroke="#a4a4a4" stroke-width="1.2"/>
<text x="1139.82" y="671.48" font-size="18.79" textLength="20.40" lengthAdjust="spacingAndGlyphs" fill="#1e1e1e" stroke="#1e1e1e" stroke-width="0.3">60</text>
<line x1="1130" y1="634.12" x2="1137" y2="634.12" stroke="#a4a4a4" stroke-width="1.2"/>
<text x="1139.82" y="640.64" font-size="18.79" textLength="20.08" lengthAdjust="spacingAndGlyphs" fill="#1e1e1e" stroke="#1e1e1e" stroke-width="0.3">70</text>
<line x1="1130" y1="603.28" x2="1137" y2="603.28" stroke="#a4a4a4" stroke-width="1.2"/>
<text x="1141.20" y="609.80" font-size="18.79" textLength="20.52" lengthAdjust="spacingAndGlyphs" fill="#1e1e1e" stroke="#1e1e1e" stroke-width="0.3">80</text>
<text x="1132.67" y="576.70" font-size="18.46" textLength="30.68" lengthAdjust="spacingAndGlyphs" fill="#1e1e1e" stroke="#1e1e1e" stroke-width="0.3">EFF</text>
<text x="1166.53" y="574.99" font-size="17.93" textLength="6.28" lengthAdjust="spacingAndGlyphs" fill="#1e1e1e" stroke="#1e1e1e" stroke-width="0.3">(</text>
<text x="1172.88" y="576.59" font-size="18.15" textLength="10.55" lengthAdjust="spacingAndGlyphs" fill="#1e1e1e" stroke="#1e1e1e" stroke-width="0.3">%</text>
<text x="1183.59" y="574.99" font-size="17.93" textLength="6.28" lengthAdjust="spacingAndGlyphs" fill="#1e1e1e" stroke="#1e1e1e" stroke-width="0.3">)</text>
<text x="255.53" y="882.63" font-size="17.66" textLength="18.26" lengthAdjust="spacingAndGlyphs" fill="#1e1e1e" stroke="#1e1e1e" stroke-width="0.3">20</text>
<text x="365.30" y="882.63" font-size="17.66" textLength="18.26" lengthAdjust="spacingAndGlyphs" fill="#1e1e1e" stroke="#1e1e1e" stroke-width="0.3">40</text>
<text x="474.62" y="882.63" font-size="17.66" textLength="18.26" lengthAdjust="spacingAndGlyphs" fill="#1e1e1e" stroke="#1e1e1e" stroke-width="0.3">60</text>
<text x="584.23" y="882.63" font-size="17.66" textLength="18.26" lengthAdjust="spacingAndGlyphs" fill="#1e1e1e" stroke="#1e1e1e" stroke-width="0.3">80</text>
<text x="688.95" y="882.63" font-size="17.66" textLength="27.39" lengthAdjust="spacingAndGlyphs" fill="#1e1e1e" stroke="#1e1e1e" stroke-width="0.3">100</text>
<text x="798.50" y="882.63" font-size="17.66" textLength="27.39" lengthAdjust="spacingAndGlyphs" fill="#1e1e1e" stroke="#1e1e1e" stroke-width="0.3">120</text>
<text x="908.05" y="882.63" font-size="17.66" textLength="27.39" lengthAdjust="spacingAndGlyphs" fill="#1e1e1e" stroke="#1e1e1e" stroke-width="0.3">140</text>
<text x="1011.75" y="883.80" font-size="22.36" font-weight="bold" textLength="5.37" lengthAdjust="spacingAndGlyphs" fill="#1e1e1e" stroke="#1e1e1e" stroke-width="0.3">l</text>
<text x="1016.50" y="883.58" font-size="22.06" textLength="41.22" lengthAdjust="spacingAndGlyphs" fill="#1e1e1e" stroke="#1e1e1e" stroke-width="0.3">/min</text>
<line x1="155" y1="893.3" x2="1042.3" y2="893.3" stroke="#a4a4a4" stroke-width="1.5"/>
<line x1="155.20" y1="893.3" x2="155.20" y2="906" stroke="#a4a4a4" stroke-width="1.5"/>
<text x="150.63" y="922.33" font-size="17.66" textLength="9.13" lengthAdjust="spacingAndGlyphs" fill="#1e1e1e" stroke="#1e1e1e" stroke-width="0.3">0</text>
<line x1="246.48" y1="893.3" x2="246.48" y2="906" stroke="#a4a4a4" stroke-width="1.5"/>
<text x="241.55" y="922.50" font-size="18.17" textLength="9.40" lengthAdjust="spacingAndGlyphs" fill="#1e1e1e" stroke="#1e1e1e" stroke-width="0.3">1</text>
<line x1="337.76" y1="893.3" x2="337.76" y2="906" stroke="#a4a4a4" stroke-width="1.5"/>
<text x="333.13" y="922.50" font-size="17.90" textLength="9.26" lengthAdjust="spacingAndGlyphs" fill="#1e1e1e" stroke="#1e1e1e" stroke-width="0.3">2</text>
<line x1="429.04" y1="893.3" x2="429.04" y2="906" stroke="#a4a4a4" stroke-width="1.5"/>
<text x="424.52" y="922.33" font-size="17.66" textLength="9.13" lengthAdjust="spacingAndGlyphs" fill="#1e1e1e" stroke="#1e1e1e" stroke-width="0.3">3</text>
<line x1="520.32" y1="893.3" x2="520.32" y2="906" stroke="#a4a4a4" stroke-width="1.5"/>
<text x="515.67" y="922.50" font-size="18.17" textLength="9.40" lengthAdjust="spacingAndGlyphs" fill="#1e1e1e" stroke="#1e1e1e" stroke-width="0.3">4</text>
<line x1="611.60" y1="893.3" x2="611.60" y2="906" stroke="#a4a4a4" stroke-width="1.5"/>
<text x="606.98" y="922.33" font-size="17.91" textLength="9.27" lengthAdjust="spacingAndGlyphs" fill="#1e1e1e" stroke="#1e1e1e" stroke-width="0.3">5</text>
<line x1="702.88" y1="893.3" x2="702.88" y2="906" stroke="#a4a4a4" stroke-width="1.5"/>
<text x="698.26" y="922.33" font-size="17.66" textLength="9.13" lengthAdjust="spacingAndGlyphs" fill="#1e1e1e" stroke="#1e1e1e" stroke-width="0.3">6</text>
<line x1="794.16" y1="893.3" x2="794.16" y2="906" stroke="#a4a4a4" stroke-width="1.5"/>
<text x="789.45" y="922.50" font-size="18.17" textLength="9.40" lengthAdjust="spacingAndGlyphs" fill="#1e1e1e" stroke="#1e1e1e" stroke-width="0.3">7</text>
<line x1="885.44" y1="893.3" x2="885.44" y2="906" stroke="#a4a4a4" stroke-width="1.5"/>
<text x="880.87" y="922.33" font-size="17.66" textLength="9.13" lengthAdjust="spacingAndGlyphs" fill="#1e1e1e" stroke="#1e1e1e" stroke-width="0.3">8</text>
<line x1="976.72" y1="893.3" x2="976.72" y2="906" stroke="#a4a4a4" stroke-width="1.5"/>
<text x="972.16" y="922.33" font-size="17.66" textLength="9.13" lengthAdjust="spacingAndGlyphs" fill="#1e1e1e" stroke="#1e1e1e" stroke-width="0.3">9</text>
<text x="1012.89" y="919.80" font-size="21.19" textLength="17.71" lengthAdjust="spacingAndGlyphs" fill="#1e1e1e" stroke="#1e1e1e" stroke-width="0.3">m</text>
<text x="1030.20" y="910.08" font-size="12.01" textLength="5.87" lengthAdjust="spacingAndGlyphs" fill="#1e1e1e" stroke="#1e1e1e" stroke-width="0.3">3</text>
<text x="1036.75" y="919.89" font-size="21.11" textLength="5.25" lengthAdjust="spacingAndGlyphs" fill="#1e1e1e" stroke="#1e1e1e" stroke-width="0.3">/</text>
<text x="1042.46" y="919.80" font-size="20.56" textLength="12.39" lengthAdjust="spacingAndGlyphs" fill="#1e1e1e" stroke="#1e1e1e" stroke-width="0.3">h</text>
<text x="834.74" y="357.39" font-size="24.69" textLength="95.82" lengthAdjust="spacingAndGlyphs" fill="#1e1e1e" stroke="#1e1e1e" stroke-width="0.3">4SP(m)6</text>
<text x="944.63" y="357.48" font-size="23.02" textLength="59.23" lengthAdjust="spacingAndGlyphs" fill="#1e1e1e" stroke="#1e1e1e" stroke-width="0.3">50HZ</text>
<text x="833.61" y="386.60" font-size="23.88" textLength="13.75" lengthAdjust="spacingAndGlyphs" fill="#1e1e1e" stroke="#1e1e1e" stroke-width="0.3">n</text>
<text x="847.72" y="385.36" font-size="20.11" font-weight="bold" textLength="13.86" lengthAdjust="spacingAndGlyphs" fill="#1e1e1e" stroke="#1e1e1e" stroke-width="0.3">=</text>
<text x="860.87" y="386.48" font-size="22.40" textLength="89.74" lengthAdjust="spacingAndGlyphs" fill="#1e1e1e" stroke="#1e1e1e" stroke-width="0.3">2850r/m</text>
<text x="949.92" y="386.60" font-size="22.56" font-weight="bold" textLength="5.87" lengthAdjust="spacingAndGlyphs" fill="#1e1e1e" stroke="#1e1e1e" stroke-width="0.3">i</text>
<text x="955.65" y="386.60" font-size="23.88" textLength="12.96" lengthAdjust="spacingAndGlyphs" fill="#1e1e1e" stroke="#1e1e1e" stroke-width="0.3">n</text>
<text x="521.07" y="958.40" font-size="25.29" textLength="14.37" lengthAdjust="spacingAndGlyphs" fill="#1e1e1e" stroke="#1e1e1e" stroke-width="0.3">F</text>
<text x="535.72" y="958.60" font-size="24.29" font-weight="bold" textLength="7.09" lengthAdjust="spacingAndGlyphs" fill="#1e1e1e" stroke="#1e1e1e" stroke-width="0.3">l</text>
<text x="541.99" y="958.56" font-size="25.00" textLength="78.88" lengthAdjust="spacingAndGlyphs" fill="#1e1e1e" stroke="#1e1e1e" stroke-width="0.3">ow rate</text>
<clipPath id="qc"><rect x="600" y="930" width="60" height="31.2"/></clipPath>
<text x="628.10" y="958.50" font-size="25.30" font-weight="bold" textLength="18.92" lengthAdjust="spacingAndGlyphs" fill="#1e1e1e" stroke="#1e1e1e" stroke-width="0.3" clip-path="url(#qc)">Q</text>
<path d="M678.1,943.6 L690,950.5 L678.1,957.4 Z" fill="#1e1e1e"/>
</svg>
</body></html>
